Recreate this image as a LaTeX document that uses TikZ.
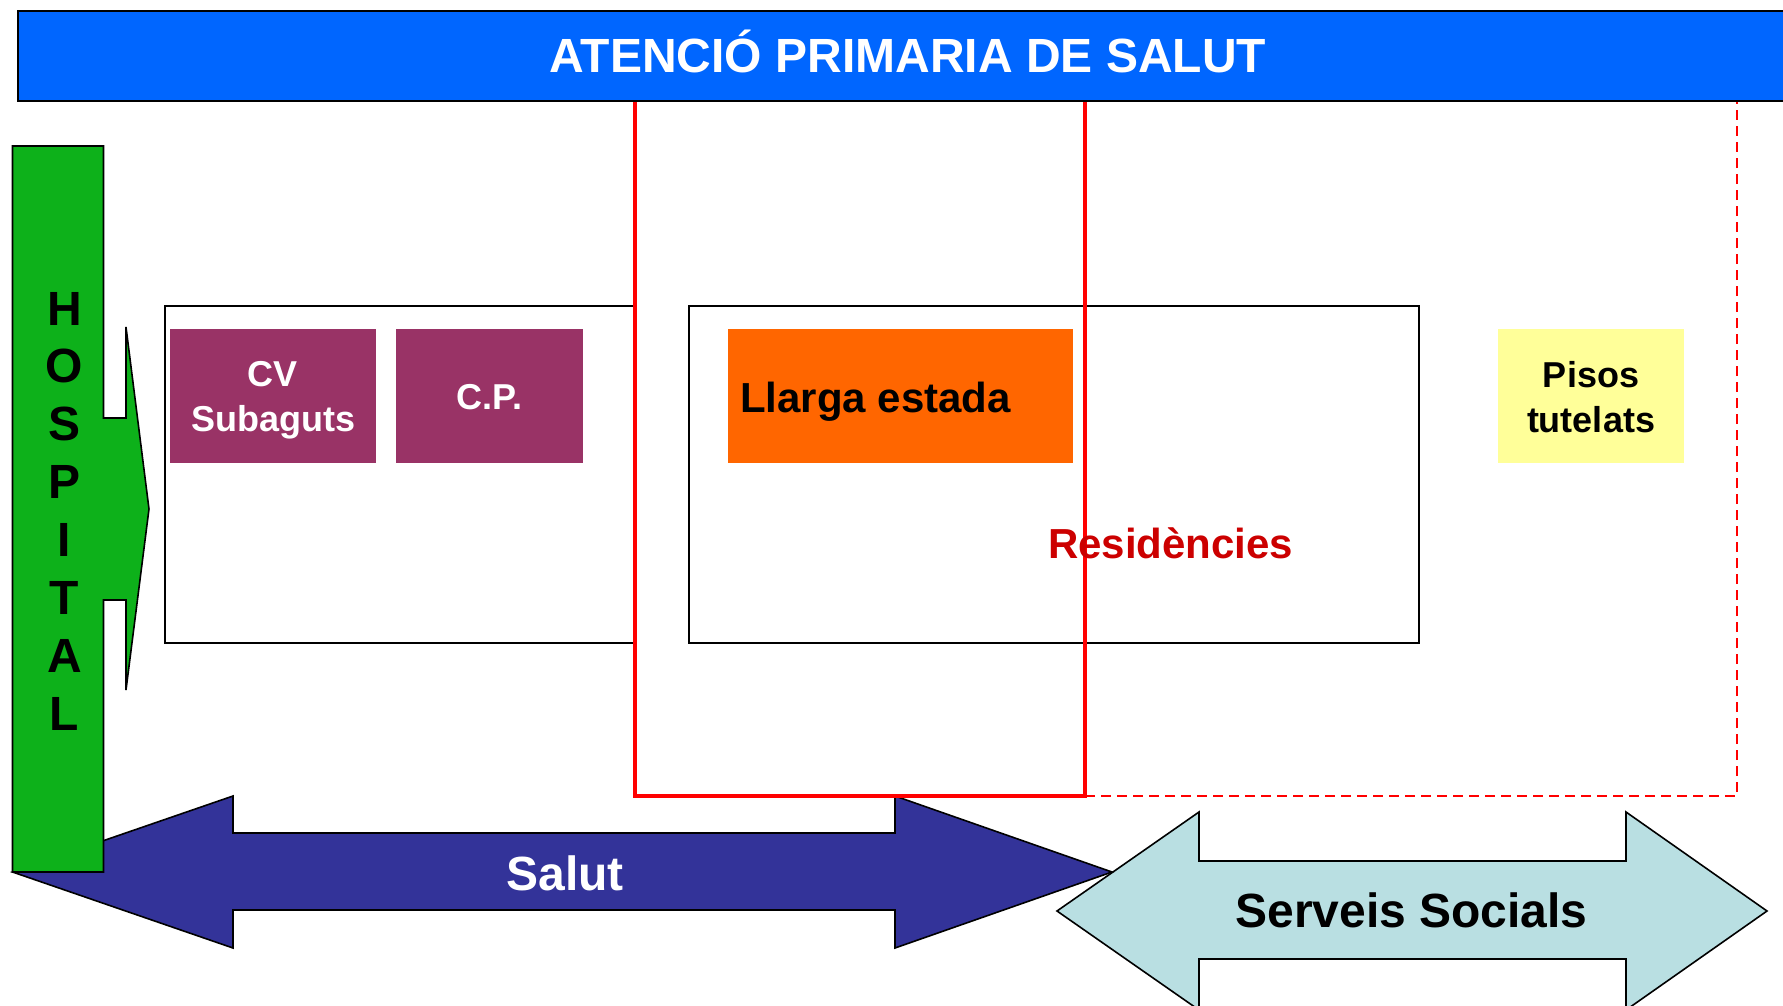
\documentclass[tikz,border=0pt]{standalone}
\usepackage{fontspec}
\setmainfont{Liberation Sans}
\definecolor{barblue}{RGB}{0,102,255}
\definecolor{hospgreen}{RGB}{13,177,26}
\definecolor{plum}{RGB}{153,51,102}
\definecolor{llorange}{RGB}{255,102,0}
\definecolor{pisyellow}{RGB}{255,255,153}
\definecolor{salutblue}{RGB}{51,51,153}
\definecolor{socblue}{RGB}{185,223,226}
\definecolor{resred}{RGB}{204,0,0}
\definecolor{linered}{RGB}{255,0,0}
\newcommand{\bsz}[2]{\fontsize{#1}{#2}\selectfont\bfseries}
\begin{document}
\begin{tikzpicture}[x=1pt,y=-1pt,
  panel/.style={draw=black, line width=1.8pt, fill=white, inner sep=0pt, anchor=north west},
  tile/.style={inner sep=0pt, anchor=north west, minimum height=134pt},
  shapeline/.style={draw=black, line width=1.6pt, line join=miter},
  redframe/.style={draw=linered, line width=4pt, line join=miter},
  reddash/.style={draw=linered, line width=2pt, dash pattern=on 10pt off 6pt},
  lbl/.style={inner sep=0pt, align=center}]
\useasboundingbox (0,0) rectangle (1783,1006);
\clip (0,0) rectangle (1783,1006);
\fill[white] (0,0) rectangle (1783,1006);

% Serveis Socials double arrow
\draw[shapeline, fill=socblue] (1057,911) -- (1199,812) -- (1199,861) -- (1626,861) -- (1626,812)
  -- (1767,911) -- (1626,1010) -- (1626,959) -- (1199,959) -- (1199,1010) -- cycle;
% Salut double arrow
\draw[shapeline, fill=salutblue] (12.5,872) -- (233,796) -- (233,833) -- (895,833) -- (895,796)
  -- (1112,872) -- (895,948) -- (895,910) -- (233,910) -- (233,948) -- cycle;
% HOSPITAL callout
\draw[shapeline, fill=hospgreen] (12.5,146) -- (103.5,146) -- (103.5,418) -- (126,418) -- (126,327)
  -- (149,509) -- (126,690) -- (126,600) -- (103.5,600) -- (103.5,872) -- (12.5,872) -- cycle;

% panels
\node[panel, minimum width=471pt, minimum height=337pt] (leftpanel) at (164,305) {};
\node[panel, minimum width=730pt, minimum height=337pt] (midpanel) at (688,305) {};

% tiles
\node[tile, fill=plum, minimum width=206pt] (cv) at (170,329) {};
\node[tile, fill=plum, minimum width=187pt] (cp) at (396,329) {};
\node[tile, fill=llorange, minimum width=345pt] (llarga) at (728,329) {};
\node[tile, fill=pisyellow, minimum width=186pt] (pisos) at (1498,329) {};

% red frames
\coordinate (rA) at (635,100);
\coordinate (rB) at (635,796);
\coordinate (rC) at (1085,796);
\coordinate (rD) at (1085,100);
\coordinate (rE) at (1737,796);
\coordinate (rF) at (1737,100);
\draw[redframe] (rA) -- (rB) -- (rC) -- (rD);
\draw[reddash] (rC) -- (rE) -- (rF);

% title bar
\node[draw=black, line width=2.2pt, fill=barblue, inner sep=0pt, anchor=north west,
  minimum width=1800pt, minimum height=90pt] (bar) at (17,10) {};

% texts
\node[lbl, anchor=base, text=white, font=\bsz{48}{48}] (title) at (908,73) {ATENCIÓ PRIMARIA DE SALUT};
\foreach \l [count=\i] in {H,O,S,P,I,T,A,L}
  \node[lbl, anchor=base, text=black, font=\bsz{48}{48}] (hosp\i) at (64.5,{325+57.86*(\i-1)}) {\l};
\node[lbl, text=white, font=\bsz{36}{45}] (cvT) at (273,400.5) {CV\\Subaguts};
\node[lbl, anchor=base, text=white, font=\bsz{36}{36}] (cpT) at (489.5,409) {C.P.};
\node[lbl, anchor=base west, text=black, font=\bsz{42}{42}] (llargaT) at (740,412) {Llarga estada};
\node[lbl, anchor=base west, text=resred, font=\bsz{42}{42}] (resT) at (1048,558) {Residències};
\node[lbl, text=black, font=\bsz{36}{45}] (pisosT) at (1591,397.5) {Pisos\\tutelats};
\node[lbl, anchor=base, text=white, font=\bsz{48}{48}] (salutT) at (565,890) {Salut};
\node[lbl, anchor=base, text=black, font=\bsz{48}{48}] (socT) at (1411.5,927) {Serveis Socials};
\end{tikzpicture}
\end{document}
